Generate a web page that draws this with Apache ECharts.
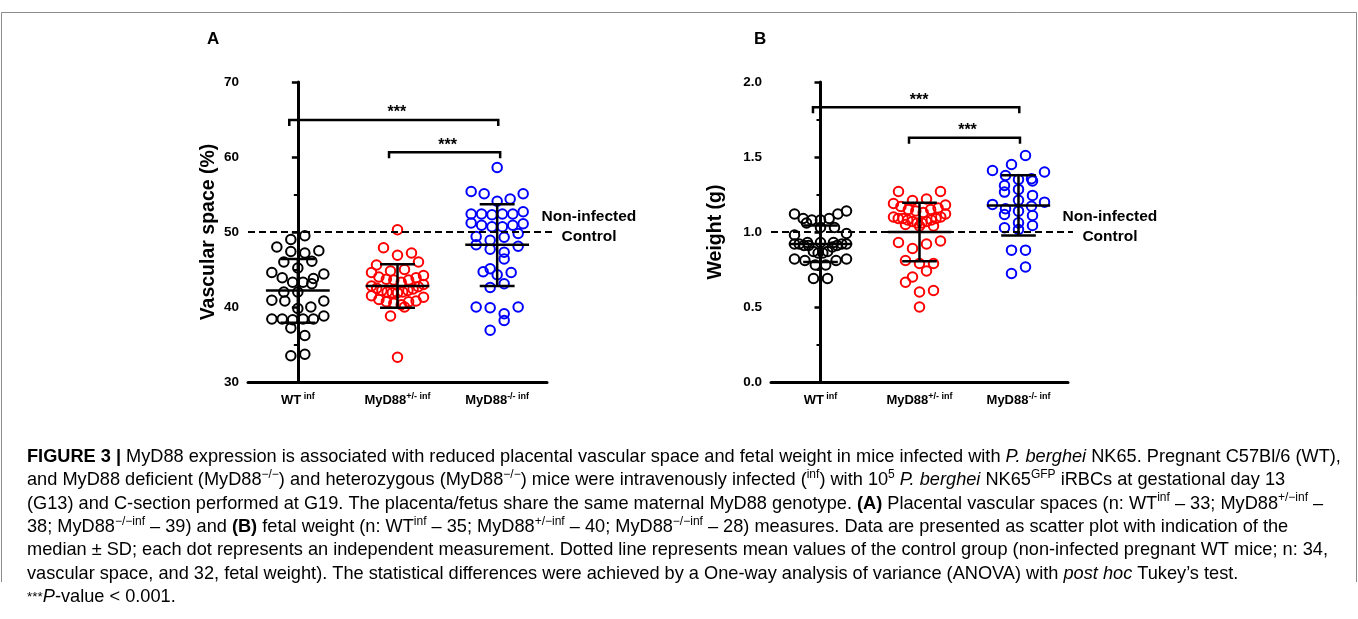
<!DOCTYPE html>
<html><head><meta charset="utf-8">
<script src="https://cdn.jsdelivr.net/npm/echarts@6/dist/echarts.min.js"></script>
<style>html,body{margin:0;padding:0;background:#fff}#c{width:1358px;height:619px}</style>
</head><body><div id="c"></div>
<script>
// ---------------- data ----------------
const categories = ['WT inf', 'MyD88+/- inf', 'MyD88-/- inf'];
const categoryMain = ['WT', 'MyD88', 'MyD88'];
const categorySup = [' inf', '+/- inf', '-/- inf'];

// Panel A: vascular space (%)
const vascWT = [49.0, 49.5, 47.5, 47.2, 47.4, 48.0, 46.1, 45.2, 46.0, 44.6, 43.9, 43.3, 43.1, 43.3, 43.8, 44.4,
  42.0, 42.0, 40.8, 40.8, 40.9, 39.8, 40.0, 38.4, 38.4, 38.3, 38.4, 38.4, 38.8, 37.2, 36.2, 33.5, 33.7];
const vascHet = [50.3, 47.9, 46.9, 47.2, 46.0, 45.0, 44.6, 45.6, 44.2, 43.7, 43.6, 43.3, 43.6, 44.0, 42.5, 42.2,
  42.0, 41.9, 41.9, 42.0, 42.2, 42.7, 40.7, 40.8, 40.0, 40.5, 40.7, 40.3, 38.8, 33.3, 43.0, 42.8, 41.5, 41.3,
  44.8, 43.9, 41.0, 42.4];
const vascKO = [58.6, 55.1, 54.4, 54.1, 55.1, 55.4, 52.7, 52.4, 52.4, 52.3, 52.4, 52.4, 50.9, 50.7, 51.2, 50.7,
  50.9, 51.1, 48.9, 49.8, 49.3, 49.4, 48.1, 47.7, 48.3, 47.3, 46.4, 44.3, 44.7, 45.1, 44.6, 43.1, 42.6, 40.0,
  39.9, 40.0, 39.1, 38.2, 36.9];
const vascCenter = [42.2, 42.8, 48.3];
const vascSdLow = [37.9, 39.9, 42.8];
const vascSdHigh = [46.4, 45.7, 53.7];
const vascControl = 50;
const vascTicks = [30, 40, 50, 60, 70];
// brackets: [from category, to category, level]
const vascBrackets = [[-0.086, 2.011, 64.93], [0.915, 2.03, 60.63]];

// Panel B: weight (g)
const weightWT = [1.14, 1.12, 1.12, 1.09, 1.08, 1.08, 1.09, 1.06, 1.03, 1.03, 0.99, 0.98, 0.93, 0.92, 0.92, 0.91,
  0.91, 0.92, 0.91, 0.92, 0.93, 0.93, 0.90, 0.87, 0.86, 0.86, 0.87, 0.82, 0.81, 0.81, 0.82, 0.78, 0.78, 0.69, 0.69];
const weightHet = [1.27, 1.27, 1.22, 1.21, 1.19, 1.18, 1.17, 1.16, 1.15, 1.15, 1.13, 1.12, 1.14, 1.10, 1.10, 1.09,
  1.09, 1.09, 1.08, 1.08, 1.07, 1.07, 1.06, 1.06, 1.05, 1.04, 1.04, 0.94, 0.93, 0.92, 0.89, 0.81, 0.79, 0.79,
  0.74, 0.70, 0.665, 0.61, 0.60, 0.50];
const weightKO = [1.51, 1.45, 1.40, 1.41, 1.355, 1.34, 1.35, 1.377, 1.31, 1.284, 1.266, 1.244, 1.212, 1.184, 1.199,
  1.155, 1.139, 1.117, 1.11, 1.172, 1.061, 1.043, 1.017, 1.028, 0.879, 0.879, 0.723, 0.767];
const weightCenter = [0.92, 1.0, 1.176];
const weightSdLow = [0.80, 0.805, 0.977];
const weightSdHigh = [1.044, 1.195, 1.378];
const weightControl = 1.0;
const weightTicks = [0, 0.5, 1.0, 1.5, 2.0];
const weightBrackets = [[-0.076, 2.008, 1.832], [0.894, 2.015, 1.628]];

// ---------------- styles ----------------
const groupColors = ['#000000', '#ff0000', '#0000ff'];
const FONT = '"Liberation Sans", Arial, Helvetica, sans-serif';

const panels = [
  { title: 'Vascular space (%)', groups: [vascWT, vascHet, vascKO], center: vascCenter, lo: vascSdLow, hi: vascSdHigh,
    control: vascControl, ticks: vascTicks, brackets: vascBrackets, decimals: 0, nameGap: 29,
    grid: { left: 248, top: 82, width: 299, height: 300 } },
  { title: 'Weight (g)', groups: [weightWT, weightHet, weightKO], center: weightCenter, lo: weightSdLow, hi: weightSdHigh,
    control: weightControl, ticks: weightTicks, brackets: weightBrackets, decimals: 1, nameGap: 45,
    grid: { left: 771, top: 82, width: 297, height: 300 } }
];

const chart = echarts.init(document.getElementById('c'), null, { renderer: 'canvas' });

const grids = [], xAxes = [], yAxes = [], baseSeries = [];
panels.forEach((p, pi) => {
  grids.push(p.grid);
  xAxes.push({
    type: 'category', gridIndex: pi, data: categories, boundaryGap: true,
    axisLine: { lineStyle: { color: '#000', width: 3 } },
    axisTick: { alignWithLabel: true, length: 6, lineStyle: { color: '#000', width: 3 } },
    axisLabel: {
      margin: 10, interval: 0,
      formatter: (v, i) => '{m|' + categoryMain[i] + '}{s|' + categorySup[i] + '}',
      rich: {
        m: { fontFamily: FONT, fontWeight: 'bold', fontSize: 13, color: '#000', lineHeight: 16, verticalAlign: 'middle' },
        s: { fontFamily: FONT, fontWeight: 'bold', fontSize: 9, color: '#000', lineHeight: 10, verticalAlign: 'top' }
      }
    },
    splitLine: { show: false }
  });
  xAxes.push({ type: 'value', gridIndex: pi, min: -0.5, max: 2.5, show: false });
  const step = p.ticks[1] - p.ticks[0];
  yAxes.push({
    type: 'value', gridIndex: pi, min: p.ticks[0], max: p.ticks[p.ticks.length - 1], interval: step,
    name: p.title, nameLocation: 'middle', nameGap: p.nameGap, nameRotate: 90,
    nameTextStyle: { fontFamily: FONT, fontWeight: 'bold', fontSize: 19.5, color: '#000' },
    axisLine: { show: true, lineStyle: { color: '#000', width: 3 } },
    axisTick: { show: true, length: 6, lineStyle: { color: '#000', width: 2.5 } },
    minorTick: { show: true, splitNumber: 2, length: 4, lineStyle: { color: '#000', width: 2 } },
    splitLine: { show: false },
    axisLabel: { margin: 9, fontFamily: FONT, fontWeight: 'bold', fontSize: 13.5, color: '#000',
      formatter: v => v.toFixed(p.decimals) }
  });
  const xi = pi * 2 + 1, yi = pi;
  // control dashed line + label
  baseSeries.push({
    type: 'custom', xAxisIndex: xi, yAxisIndex: yi, z: 4, silent: true, clip: false,
    data: [[-0.5, 2.55, p.control]],
    renderItem: (params, api) => {
      const a = api.coord([api.value(0), api.value(2)]);
      const b = api.coord([api.value(1), api.value(2)]);
      const tx = b[0] + 37;
      return { type: 'group', children: [
        { type: 'line', shape: { x1: a[0], y1: a[1], x2: b[0], y2: b[1] },
          style: { stroke: '#000', lineWidth: 2, lineDash: [7, 4] } },
        { type: 'text', style: { text: 'Non-infected', x: tx, y: a[1] - 15, align: 'center', verticalAlign: 'middle',
          fontFamily: FONT, fontWeight: 'bold', fontSize: 15.5, fill: '#000' } },
        { type: 'text', style: { text: 'Control', x: tx, y: a[1] + 4.5, align: 'center', verticalAlign: 'middle',
          fontFamily: FONT, fontWeight: 'bold', fontSize: 15.5, fill: '#000' } }
      ] };
    }
  });
  // median +/- SD bars
  baseSeries.push({
    type: 'custom', xAxisIndex: xi, yAxisIndex: yi, z: 6, silent: true, clip: false,
    data: p.center.map((c, gi) => [gi, c, p.lo[gi], p.hi[gi]]),
    renderItem: (params, api) => {
      const x = api.value(0);
      const m = api.coord([x, api.value(1)]), l = api.coord([x, api.value(2)]), h = api.coord([x, api.value(3)]);
      const cat = api.size([1, 0])[0];
      const mw = cat * 0.32, cw = cat * 0.175;
      const st = { stroke: '#000', lineWidth: 2.5 };
      return { type: 'group', children: [
        { type: 'line', shape: { x1: m[0] - mw, y1: m[1], x2: m[0] + mw, y2: m[1] }, style: st },
        { type: 'line', shape: { x1: l[0], y1: l[1], x2: h[0], y2: h[1] }, style: st },
        { type: 'line', shape: { x1: l[0] - cw, y1: l[1], x2: l[0] + cw, y2: l[1] }, style: st },
        { type: 'line', shape: { x1: h[0] - cw, y1: h[1], x2: h[0] + cw, y2: h[1] }, style: st }
      ] };
    }
  });
  // significance brackets
  baseSeries.push({
    type: 'custom', xAxisIndex: xi, yAxisIndex: yi, z: 6, silent: true, clip: false,
    data: p.brackets,
    renderItem: (params, api) => {
      const a = api.coord([api.value(0), api.value(2)]);
      const b = api.coord([api.value(1), api.value(2)]);
      return { type: 'group', children: [
        { type: 'polyline', shape: { points: [[a[0], a[1] + 6], [a[0], a[1]], [b[0], b[1]], [b[0], b[1] + 6]] },
          style: { stroke: '#000', lineWidth: 2.5, fill: null } },
        { type: 'text', style: { text: '***', x: (a[0] + b[0]) / 2 + 3, y: a[1] - 7, align: 'center', verticalAlign: 'middle',
          fontFamily: FONT, fontWeight: 'bold', fontSize: 16, fill: '#000' } }
      ] };
    }
  });
});

// caption
const captionLines = [
  '{b|FIGURE 3 |}{n| MyD88 expression is associated with reduced placental vascular space and fetal weight in mice infected with }{i|P. berghei}{n| NK65. Pregnant C57Bl/6 (WT),}',
  '{n|and MyD88 deficient (MyD88}{s|\u2212/\u2212}{n|) and heterozygous (MyD88}{s|\u2212/\u2212}{n|) mice were intravenously infected (}{s|inf}{n|) with 10}{s|5}{n| }{i|P. berghei}{n| NK65}{s|GFP}{n| iRBCs at gestational day 13}',
  '{n|(G13) and C-section performed at G19. The placenta/fetus share the same maternal MyD88 genotype. }{b|(A)}{n| Placental vascular spaces (n: WT}{s|inf}{n| \u2013 33; MyD88}{s|+/\u2212inf}{n| \u2013}',
  '{n|38; MyD88}{s|\u2212/\u2212inf}{n| \u2013 39) and }{b|(B)}{n| fetal weight (n: WT}{s|inf}{n| \u2013 35; MyD88}{s|+/\u2212inf}{n| \u2013 40; MyD88}{s|\u2212/\u2212inf}{n| \u2013 28) measures. Data are presented as scatter plot with indication of the}',
  '{n|median \u00b1 SD; each dot represents an independent measurement. Dotted line represents mean values of the control group (non-infected pregnant WT mice; n: 34,}',
  '{n|vascular space, and 32, fetal weight). The statistical differences were achieved by a One-way analysis of variance (ANOVA) with }{i|post hoc}{n| Tukey\u2019s test.}',
  '{g|***}{i|P}{n|-value < 0.001.}'
];
const CAP_FS = 18.2, CAP_COLOR = '#231f20';
const capRich = {
  n: { fontFamily: FONT, fontSize: CAP_FS, color: CAP_COLOR, lineHeight: 23, verticalAlign: 'middle' },
  b: { fontFamily: FONT, fontSize: CAP_FS, fontWeight: 'bold', color: CAP_COLOR, lineHeight: 23, verticalAlign: 'middle' },
  i: { fontFamily: FONT, fontSize: CAP_FS, fontStyle: 'italic', color: CAP_COLOR, lineHeight: 23, verticalAlign: 'middle' },
  s: { fontFamily: FONT, fontSize: 12, color: CAP_COLOR, lineHeight: 14, verticalAlign: 'top' },
  g: { fontFamily: FONT, fontSize: 13.5, color: '#555', lineHeight: 23, verticalAlign: 'middle' }
};

const graphics = [
  { type: 'polyline', silent: true, shape: { points: [[1.5, 582], [1.5, 12.5], [1356.5, 12.5], [1356.5, 582]] },
    style: { stroke: '#8c8c8c', lineWidth: 1, fill: null } },
  { type: 'text', left: 207, top: 31, style: { text: 'A', fontFamily: FONT, fontWeight: 'bold', fontSize: 17, fill: '#000' } },
  { type: 'text', left: 754, top: 31, style: { text: 'B', fontFamily: FONT, fontWeight: 'bold', fontSize: 17, fill: '#000' } }
];
captionLines.forEach((t, k) => {
  graphics.push({ type: 'text', silent: true, x: 27, y: 457 + k * 23.3,
    style: { text: t, rich: capRich, align: 'left', verticalAlign: 'middle' } });
});

chart.setOption({
  animation: false,
  backgroundColor: '#fff',
  grid: grids, xAxis: xAxes, yAxis: yAxes,
  series: baseSeries,
  graphic: graphics
});

// ------------- row-binned scatter offsets computed in pixel space from the axes -------------
function rowOffsets(ys, binH, maxHalf, sMax) {
  const order = ys.map((_, i) => i).sort((a, b) => ys[a] - ys[b]);
  const out = new Array(ys.length).fill(0);
  let k = 0, flip = 1;
  while (k < order.length) {
    const top = ys[order[k]];
    const bin = [];
    while (k < order.length && ys[order[k]] - top <= binH) { bin.push(order[k]); k++; }
    const n = bin.length;
    const s = n > 1 ? Math.min(sMax, 2 * maxHalf / (n - 1)) : 0;
    const slots = [];
    for (let j = 0; j < n; j++) slots.push((j - (n - 1) / 2) * s);
    slots.sort((a, b) => (Math.abs(a) - Math.abs(b)) || flip * (a - b));
    flip = -flip;
    const lowestFirst = bin.slice().sort((a, b) => ys[b] - ys[a]);
    lowestFirst.forEach((idx, j) => { out[idx] = slots[j]; });
  }
  return out;
}

const scatterSeries = [];
panels.forEach((p, pi) => {
  const finder = { xAxisIndex: pi * 2 + 1, yAxisIndex: pi };
  const catPx = chart.convertToPixel(finder, [1, p.ticks[0]])[0] - chart.convertToPixel(finder, [0, p.ticks[0]])[0];
  p.groups.forEach((vals, gi) => {
    const ys = vals.map(v => chart.convertToPixel(finder, [gi, v])[1]);
    const dx = rowOffsets(ys, 10, 26, 14);
    scatterSeries.push({
      type: 'scatter', xAxisIndex: pi * 2 + 1, yAxisIndex: pi, z: 3, silent: true,
      symbol: 'circle', symbolSize: 9.5,
      itemStyle: { color: 'rgba(0,0,0,0)', borderColor: groupColors[gi], borderWidth: 2, opacity: 1 },
      data: vals.map((v, k) => [gi + dx[k] / catPx, v])
    });
  });
});

chart.setOption({ series: baseSeries.concat(scatterSeries) });
</script>
</body></html>
